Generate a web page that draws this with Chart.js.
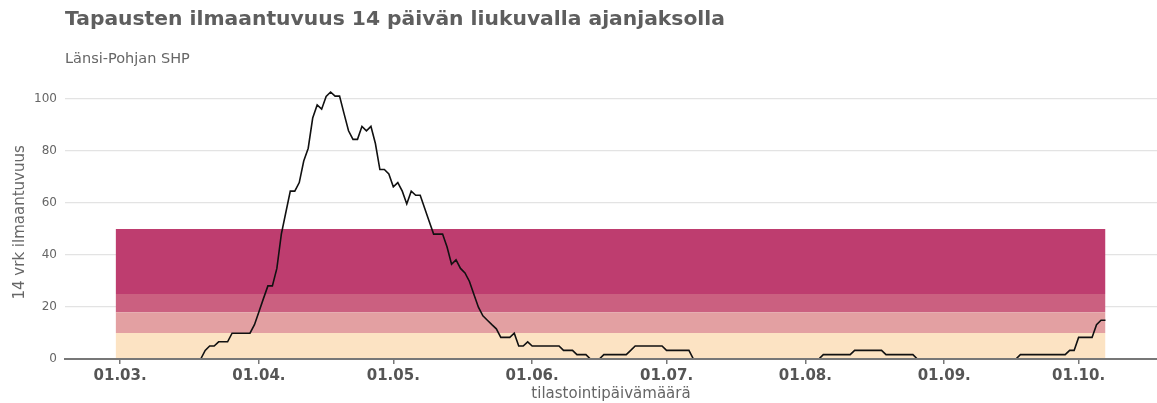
<!DOCTYPE html>
<html>
<head>
<meta charset="utf-8">
<script src="https://cdn.jsdelivr.net/npm/chart.js@4"></script>
<style>
  body { margin: 0; background: #fff; }
  #wrap { width: 1157px; height: 403px; }
</style>
</head>
<body>
<div id="wrap"><canvas id="chart"></canvas></div>
<script>
// --- data ---
const firstDay = '2020-02-29'; // first day of the daily series
const incidence = [
  0, 0, 0, 0, 0, 0, 0, 0, 0, 0,
  0, 0, 0, 0, 0, 0, 0, 0, 0, 0,
  3.3, 5.0, 5.0, 6.6, 6.6, 6.6, 9.9, 9.9, 9.9, 9.9,
  9.9, 13.2, 18.2, 23.2, 28.1, 28.1, 34.8, 48.0, 56.3, 64.5,
  64.5, 67.8, 76.1, 81.0, 92.6, 97.6, 96.0, 100.9, 102.6, 101.0,
  101.0, 94.3, 87.7, 84.4, 84.4, 89.4, 87.7, 89.4, 82.8, 72.8,
  72.8, 71.1, 66.2, 67.8, 64.5, 59.6, 64.5, 62.9, 62.9, 57.9,
  52.9, 48.0, 48.0, 48.0, 43.0, 36.4, 38.1, 34.8, 33.1, 29.8,
  24.8, 19.9, 16.6, 14.9, 13.2, 11.6, 8.3, 8.3, 8.3, 9.9,
  5.0, 5.0, 6.6, 5.0, 5.0, 5.0, 5.0, 5.0, 5.0, 5.0,
  3.3, 3.3, 3.3, 1.7, 1.7, 1.7, 0, 0, 0, 1.7,
  1.7, 1.7, 1.7, 1.7, 1.7, 3.3, 5.0, 5.0, 5.0, 5.0,
  5.0, 5.0, 5.0, 3.3, 3.3, 3.3, 3.3, 3.3, 3.3, 0,
  0, 0, 0, 0, 0, 0, 0, 0, 0, 0,
  0, 0, 0, 0, 0, 0, 0, 0, 0, 0,
  0, 0, 0, 0, 0, 0, 0, 0,
  1.7, 1.7, 1.7, 1.7, 1.7, 1.7, 1.7,
  3.3, 3.3, 3.3, 3.3, 3.3, 3.3, 3.3,
  1.7, 1.7, 1.7, 1.7, 1.7, 1.7, 1.7,
  0, 0, 0, 0, 0, 0, 0, 0, 0, 0,
  0, 0, 0, 0, 0, 0, 0, 0, 0, 0,
  0, 0, 0,
  1.7, 1.7, 1.7, 1.7, 1.7, 1.7, 1.7, 1.7, 1.7, 1.7, 1.7,
  3.3, 3.3, 8.3, 8.3, 8.3, 8.3, 13.2, 14.9, 14.9
];
const bandLimits = [10, 18, 25, 50];
const bandColors = ['#FCE3C3', '#E3A0A2', '#CB6080', '#BE3D6F'];
const monthStarts = ['2020-03-01', '2020-04-01', '2020-05-01', '2020-06-01',
                     '2020-07-01', '2020-08-01', '2020-09-01', '2020-10-01'];
const monthLabels = ['01.03.', '01.04.', '01.05.', '01.06.', '01.07.', '01.08.', '01.09.', '01.10.'];
const yTicks = [0, 20, 40, 60, 80, 100];

// days counted from 1st of March
const DAY = 86400000;
const origin = Date.parse('2020-03-01');
const dayOf = s => (Date.parse(s) - origin) / DAY;

const start = dayOf(firstDay);
const points = incidence.map((v, i) => ({ x: start + i, y: v }));
const lastX = start + incidence.length - 1;
const tickDays = monthStarts.map(dayOf);

const FONT = 'DejaVu Sans';

const datasets = [{
  data: points,
  borderColor: '#111',
  borderWidth: 1.6,
  pointRadius: 0,
  tension: 0,
  fill: false
}];
bandLimits.forEach((lim, i) => {
  datasets.push({
    data: [{ x: start, y: lim }, { x: lastX, y: lim }],
    borderWidth: 0,
    borderColor: 'rgba(0,0,0,0)',
    backgroundColor: bandColors[i],
    pointRadius: 0,
    fill: i === 0 ? 'origin' : '-1'
  });
});

new Chart(document.getElementById('chart'), {
  type: 'line',
  data: { datasets },
  options: {
    responsive: true,
    maintainAspectRatio: false,
    animation: false,
    layout: { padding: 0 },
    plugins: {
      legend: { display: false },
      tooltip: { enabled: false },
      title: {
        display: true,
        text: 'Tapausten ilmaantuvuus 14 päivän liukuvalla ajanjaksolla',
        align: 'start',
        fullSize: false,
        color: '#5e5e5e',
        font: { family: FONT, size: 20.3, weight: 'bold' },
        padding: { top: 8, bottom: 10 }
      },
      subtitle: {
        display: true,
        text: 'Länsi-Pohjan SHP',
        align: 'start',
        fullSize: false,
        color: '#666',
        font: { family: FONT, size: 14.5 },
        padding: { top: 8, bottom: 18 }
      }
    },
    scales: {
      x: {
        type: 'linear',
        min: -12.3,
        max: 231.5,
        afterBuildTicks: s => { s.ticks = tickDays.map(v => ({ value: v })); },
        afterFit: s => { s.height = 44; },
        grid: { drawOnChartArea: false, drawTicks: true, tickLength: 5, color: '#777', lineWidth: 1.5 },
        // axis line drawn on top of the zero-level part of the curve
        border: { display: true, color: '#777', width: 2, z: 1 },
        ticks: {
          autoSkip: false,
          maxRotation: 0,
          padding: 3,
          color: '#555',
          font: { family: FONT, size: 15, weight: 'bold' },
          callback: v => monthLabels[tickDays.indexOf(v)]
        },
        title: {
          display: true,
          text: 'tilastointipäivämäärä',
          color: '#666',
          font: { family: FONT, size: 15 },
          padding: { top: 0, bottom: 0 }
        }
      },
      y: {
        min: 0,
        max: 105,
        afterBuildTicks: s => { s.ticks = yTicks.map(v => ({ value: v })); },
        afterFit: s => { s.width = 65; },
        grid: { color: '#e3e3e3', lineWidth: 1.2, drawTicks: false },
        border: { display: false },
        ticks: {
          padding: 8,
          color: '#666',
          font: { family: FONT, size: 12 }
        },
        title: {
          display: true,
          text: '14 vrk ilmaantuvuus',
          color: '#666',
          font: { family: FONT, size: 15 },
          padding: { top: 11, bottom: 0 }
        }
      }
    }
  }
});
</script>
</body>
</html>
